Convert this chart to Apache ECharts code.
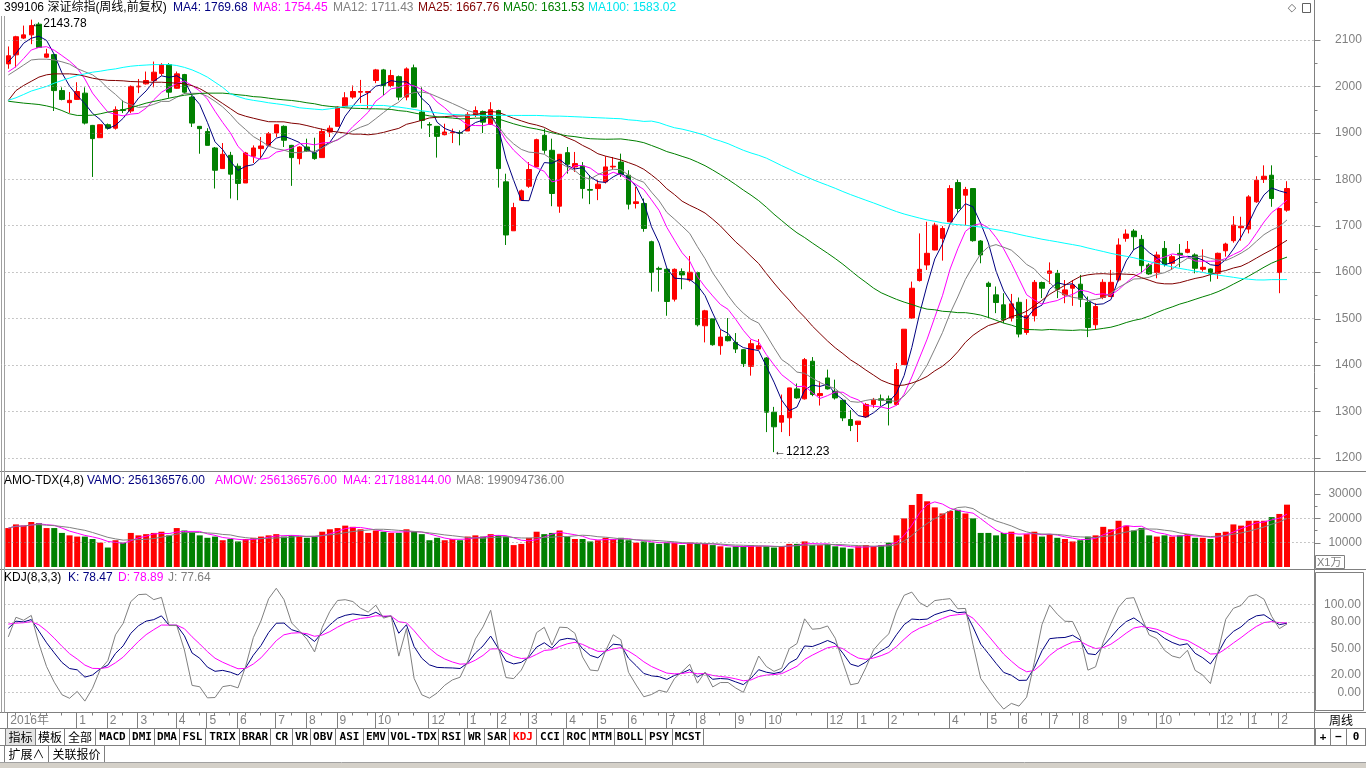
<!DOCTYPE html>
<html><head><meta charset="utf-8">
<script src="https://cdn.jsdelivr.net/npm/echarts@6/dist/echarts.min.js"></script>
<style>html,body{margin:0;padding:0;background:#fff;overflow:hidden}#c{width:1366px;height:768px}</style>
</head><body><div id="c"></div><script>
// ---------- data ----------
const startMonday = '2016-10-31';
const closedWeeks = ['2017-10-02','2018-10-01','2019-02-04','2020-01-27'];
const shortWeeks = {'2019-04-29':'2019-04-30','2019-09-30':'2019-09-30'};

const open = [2048.5,2068,2104,2111,2134,2063,2068.5,1991,1965,1972,
1985.5,1916,1889.5,1917.5,1910,1950,1947,1999,2005.5,2012.7,
2028,2047,1996,2025.5,1977,1914,1903,1867.4,1823,1851.6,
1828,1792,1849.5,1866,1873,1899.6,1914,1873,1844.5,1869.5,
1856.6,1846.6,1901.7,1914,1957,1977,1987.6,1987,2012.7,2035.6,
2002,2021,1977,2040,1944.7,1918,1914,1896,1900,1900,
1904,1937.5,1946,1918,1948,1794.4,1689,1755,1785,1826.6,
1894.6,1862.4,1742,1857.3,1826.6,1828.7,1778,1780,1794.4,1826.6,
1837,1808.7,1747.8,1747.8,1665.5,1608,1606,1541.7,1601,1583,
1599,1484.4,1499.4,1441.5,1461.5,1448.6,1433,1397,1434.3,1415,
1298.3,1276.8,1286.1,1348.4,1327,1408,1334,1372,1343.4,1324,
1282.5,1271.8,1288.3,1315,1327,1327,1315,1400.7,1501,1581.8,
1615.4,1647.6,1672.7,1708.4,1792.9,1765.7,1780,1667,1576,1551,
1529.5,1501,1535,1470,1506,1577.5,1597.5,1597.5,1551,1565.3,
1574,1534.5,1486.6,1545.3,1547.4,1583,1672.7,1688.4,1670.5,1615.4,
1599,1651,1619,1640.5,1642.6,1637,1606,1606.8,1597.5,1646,
1667.7,1695.6,1692.7,1751.4,1799.4,1808.7,1599,1733.5];
const high = [2086,2109,2131,2143.78,2138,2081,2070,1998,1988,2009,
1998,1917,1918,1920,1957,1970,2002,2016,2032,2053.5,
2050,2050,2032,2027,1980.5,1914,1910,1869.5,1878,1859,
1834,1859,1873,1891,1901.7,1918,1916,1874,1871,1887.4,
1889.5,1909,1916,1957,1987.6,2002,2014,1990,2037.7,2037.7,
2035.6,2023.4,2041,2047,1998,1923,1914,1919.6,1909,1905.3,
1944.7,1957,1948,1966,1949.7,1812,1749.3,1778,1837,1887.4,
1909,1887.4,1854,1869.5,1858.8,1837,1808.7,1798,1849.5,1848,
1855.2,1819.4,1783.6,1758.5,1667.7,1611.8,1608.3,1608,1608,1634.7,
1601,1518.8,1501,1476,1501,1468.7,1434.3,1454.3,1455.8,1417,
1309.7,1336.3,1351,1360,1415,1417,1364.8,1390,1368.4,1325.5,
1302.6,1279,1318.3,1329,1336.3,1334,1404.2,1477,1579.6,1683.4,
1708.4,1706.3,1699,1787.2,1799.4,1783.6,1780,1669,1579.6,1569,
1554.6,1553,1545.3,1541.7,1583,1579.6,1621,1604.7,1583,1583,
1594,1547.4,1533,1584.6,1604.7,1672.7,1692,1692.7,1680,1619,
1644,1667,1637,1660.5,1667,1640.5,1649,1608,1642,1663.4,
1720.6,1719.2,1765.7,1806.5,1830,1830,1737,1795.8];
const low = [2038,2041,2102,2091,2083,2061,1947,1970,1943,1971,
1918,1805,1889,1907,1907,1942.5,1942.5,1985.5,2004,1998,
2023,1975.5,1995,1984,1912.5,1855,1873,1780,1823,1758.5,
1755,1792,1835,1844.5,1871,1891,1869.5,1785.8,1832,1858.8,
1842,1846,1891,1914,1955.4,1973.3,1964,1953,2007,1980.5,
1998,1970,1970,1955,1909,1891,1846.6,1894.6,1878,1873,
1904,1934,1899.6,1918,1782,1658.4,1689,1755,1781.5,1826,
1855,1742,1727.8,1812,1815.8,1758.5,1746.4,1755,1790.8,1821,
1805,1735,1737,1687,1558,1558,1506,1536.7,1563,1579.6,
1483,1448.6,1441.5,1422,1450.8,1425.7,1395.6,1377,1433,1255.4,
1212.23,1255.4,1246.8,1327,1325.5,1332.7,1312.6,1347,1325.5,1279,
1257.5,1234,1286,1307.6,1311.2,1269.7,1312.6,1400,1499.5,1579.6,
1604.7,1647,1624.7,1708,1727.8,1701.3,1665.5,1619,1501,1511.6,
1490,1493.7,1459.4,1465,1493.7,1544,1574.6,1544,1533,1527.4,
1524.5,1460,1476,1541.7,1546,1579.6,1665.5,1647.6,1597.5,1594,
1586.8,1612,1604.7,1610.4,1640.5,1597.5,1601,1579.6,1585.3,1633.3,
1663.4,1667.7,1683.4,1749.3,1792,1740.7,1554.6,1730];
const close = [2066,2107,2111,2131,2084,2070,1991,1972,1970,1989,
1921,1887.5,1917.5,1910,1949.7,1948,2000,2000.5,2012.7,2030.6,
2047,1987.6,2027,1987.6,1921,1909,1873,1819.4,1853.8,1811,
1791,1856.6,1867.4,1871.7,1898,1917.5,1884,1846.6,1869.5,1861,
1844.5,1903,1910,1955.4,1975.5,1989,1989,1989,2035.6,2002,
2023.4,1977,2037.7,1955.4,1926.8,1916.7,1892.4,1901.7,1901.7,1899,
1939.7,1948,1923,1949.7,1823,1680,1739,1775,1821,1885.3,
1862.4,1769.3,1853.8,1832.3,1833.7,1780,1776.5,1789.4,1826.6,1828,
1810.8,1746.4,1751.4,1694,1599,1606,1536.7,1606,1594,1599.7,
1486.6,1516.6,1443.6,1460,1452.2,1434.3,1402.8,1445.8,1441.5,1298.3,
1266.8,1291,1350.6,1329,1411.4,1336.3,1338.4,1348.4,1329,1286,
1269.7,1279,1315,1324,1324,1318.3,1390,1477,1565.3,1606,
1640.5,1701.3,1694,1780,1737,1778,1667.7,1637,1569,1534.5,
1497.3,1531.6,1466.5,1506,1578,1565.3,1602.5,1563,1561.7,1572.5,
1541.7,1480.8,1526,1578,1578,1658.4,1682,1676.2,1614,1596,
1636.9,1616.8,1633.3,1637,1649,1608.3,1610.4,1596,1640.5,1660.5,
1701.3,1699,1762,1798,1806.5,1758.5,1737,1780];
// turnover in units of 1e4 (axis "X1万")
const amount = [16000,17500,17000,18500,18000,16000,16000,14000,13000,12500,
12500,11500,10000,8000,11000,10000,14000,13000,13500,14000,
14500,13000,16000,15000,14500,13000,12000,12500,11000,11500,
10500,11500,12000,12500,13000,13500,12500,13000,12500,12000,
12500,14500,15500,16000,17000,16500,15500,14000,15000,14500,
14000,14000,15500,14500,13500,11000,12000,11000,11500,11000,
12500,13000,12500,13500,13000,12500,9000,9500,12000,14500,
13500,14000,15000,12500,11500,11500,10500,11000,12000,11500,
12000,11000,10000,10500,10000,9500,10000,10000,9000,10000,
9500,9500,9000,8500,8000,8500,8500,9000,8500,8500,
8000,8500,9500,9500,10500,9000,9000,9500,8500,8000,
7500,8500,9000,8500,9000,10000,13000,20000,25500,30000,
27000,24500,22000,23000,23500,22000,20000,14000,14000,13000,
14000,14500,12500,13500,14500,12500,13500,12000,11500,10500,
11000,12500,13000,16500,15500,19000,17000,15000,16000,13000,
12500,13000,12500,13000,13500,12000,12000,11500,14000,14500,
17500,17000,19000,19000,19000,20500,21800,25614];
const ma4Head = [2053,2071,2093];
const ma8Head = [2031.6,2042.5,2060,2078.4,2084,2085.6,2078];
const ma12Head = [2024.5,2035,2046,2057,2058.6,2058.6,2057,2053,2048,2038.5,2031.6];
const ma25Head = [1969.7,1991,2002,2011,2020,2025,2027,2027,2027,2025.5,2022,2017.7,2015,2013,2012.7,2012,2010.5,2010,2009,2009,2009,2008,2007,2005.5];
const ma50Head = [1968,1966,1964,1962.6,1961,1958,1954,1948,1941,1937.5,
1937.5,1938,1941,1944.7,1947,1949.7,1954,1959,1964,1967.6,
1971,1974.7,1978,1981,1983,1984.8,1985.5,1985.5,1985.5,1984,
1982,1980.5,1978,1977,1974.7,1972.6,1971,1969.7,1967.6,1964.7,
1962.6,1959,1957,1955.4,1954,1953,1952.5,1951.8,1951.8];
const ma100Head = [1970,1975.5,1982.6,1990,1995,2000,2007,2012.7,2018,2023.4,
2027,2030.6,2032.7,2035.6,2037.7,2041,2043.5,2045,2046,2047,
2047,2047,2045,2041,2035.6,2028.4,2020,2009,1998,1984,
1978,1973,1970,1967.6,1964.7,1962.6,1960.4,1957.6,1954,1952.5,
1951,1949.7,1951.8,1954,1957,1958.3,1959,1959,1959,1959,
1957,1955.4,1953,1950.4,1947.5,1945.4,1943,1941,1939.7,1939,
1938,1937.5,1937.5,1937.5,1938,1937.5,1937.5,1937.5,1937.5,1937.5,
1936.8,1936,1936,1935.4,1934.7,1934,1933.2,1932.5,1931.8,1931,
1930.4,1928,1926.8,1924.6,1925.3,1921.8,1916,1911,1908,1904,
1899.6,1894.6,1887.4,1882.4,1876.7,1869.5,1862.4,1856.6,1851.6];
const kdjSeed = [80, 80]; // K, D before the first bar

const priceTicks = [1200,1300,1400,1500,1600,1700,1800,1900,2000,2100];
const priceMinor = [1250,1350,1450,1550,1650,1750,1850,1950,2050];
const volTicks = [10000,20000,30000];
const volMinor = [15000,25000];
const volGridVals = [10000,20000];
const kdjTicks = [0,20,50,80,100];

const headerMain = [['399106 深证综指(周线,前复权)','#000000'],['MA4: 1769.68','#000080'],['MA8: 1754.45','#FF00FF'],['MA12: 1711.43','#808080'],['MA25: 1667.76','#800000'],['MA50: 1631.53','#008000'],['MA100: 1583.02','#00E5EE']];
const headerVol = [['AMO-TDX(4,8)','#000000'],['VAMO: 256136576.00','#000080'],['AMOW: 256136576.00','#FF00FF'],['MA4: 217188144.00','#FF00FF'],['MA8: 199094736.00','#808080']];
const headerKdj = [['KDJ(8,3,3)','#000000'],['K: 78.47','#000080'],['D: 78.89','#FF00FF'],['J: 77.64','#808080']];
const tabNames = ['指标','模板','全部','MACD','DMI','DMA','FSL','TRIX','BRAR','CR','VR','OBV','ASI','EMV','VOL-TDX','RSI','WR','SAR','KDJ','CCI','ROC','MTM','BOLL','PSY','MCST'];
const bottomTabs = ['扩展∧','关联报价'];

// ---------- derived ----------
const N = close.length;
const dates = [];
(function(){
  let d = new Date(startMonday + 'T00:00:00Z');
  const f = x => x.toISOString().slice(0,10);
  while (dates.length < N) {
    const mon = f(d);
    if (!closedWeeks.includes(mon)) {
      if (shortWeeks[mon]) dates.push(shortWeeks[mon]);
      else { const fr = new Date(d.getTime() + 4*86400000); dates.push(f(fr)); }
    }
    d = new Date(d.getTime() + 7*86400000);
  }
})();
const cats = dates.concat(['', '', '']);
const months = dates.map(s => +s.slice(5,7));
const labelIdx = new Set([0]);
(function(){
  let last = 0;
  for (let i = 1; i < N; i++) {
    if (months[i] !== months[i-1]) {
      const gap = last === 0 ? 6 : 4;
      if (i - last >= gap) { labelIdx.add(i); last = i; }
    }
  }
})();
function maOf(arr, n, head) {
  return arr.map((v, i) => {
    if (i >= n - 1) { let s = 0; for (let k = i-n+1; k <= i; k++) s += arr[k]; return +(s/n).toFixed(2); }
    return head ? head[i] : null;
  });
}
function maPartial(arr, n) {
  return arr.map((v, i) => { const a = Math.max(0, i-n+1); let s = 0; for (let k = a; k <= i; k++) s += arr[k]; return +(s/(i-a+1)).toFixed(1); });
}
const ma4 = maOf(close, 4, ma4Head), ma8 = maOf(close, 8, ma8Head), ma12 = maOf(close, 12, ma12Head);
const ma25 = maOf(close, 25, ma25Head), ma50 = maOf(close, 50, ma50Head), ma100 = maOf(close, 100, ma100Head);
const amo4 = maPartial(amount, 4), amo8 = maPartial(amount, 8);
const K = [], D = [], J = [];
(function(){
  let pk = kdjSeed[0], pd = kdjSeed[1];
  for (let i = 0; i < N; i++) {
    const a = Math.max(0, i-7);
    let lo = Infinity, hi = -Infinity;
    for (let k = a; k <= i; k++) { lo = Math.min(lo, low[k]); hi = Math.max(hi, high[k]); }
    const rsv = hi > lo ? (close[i]-lo)/(hi-lo)*100 : 50;
    const k = (2*pk + rsv)/3, d = (2*pd + k)/3;
    K.push(+k.toFixed(2)); D.push(+d.toFixed(2)); J.push(+(3*k-2*d).toFixed(2));
    pk = k; pd = d;
  }
})();
const candle = open.map((o, i) => [o, close[i], low[i], high[i]]);
const volBars = amount.map((v, i) => ({ value: v, itemStyle: { color: close[i] >= open[i] ? '#FF0000' : '#008000' } }));
let hiIdx = 0, loIdx = 0;
high.forEach((v, i) => { if (v > high[hiIdx]) hiIdx = i; });
low.forEach((v, i) => { if (v < low[loIdx]) loIdx = i; });

// ---------- layout ----------
const W = 1366, GL = 4.47, GR = 1313.8;
const FONT = '12px "Liberation Sans", "Noto Sans CJK SC", Arial, sans-serif';
const TABFONT = 'bold 11px "DejaVu Sans Mono", "Liberation Mono", monospace';
const CJKFONT = '12px "Noto Sans CJK SC", sans-serif';
const AX = '#808080';
const dotted = (vals) => ({ silent: true, symbol: ['none','none'], label: { show: false }, animation: false,
  lineStyle: { color: '#909090', type: [1, 3], width: 1 }, emphasis: { disabled: true }, data: vals.map(v => ({ yAxis: v })) });
const xBase = (g) => ({ type: 'category', gridIndex: g, data: cats, boundaryGap: true,
  axisLine: { show: false }, axisTick: { show: false }, axisLabel: { show: false }, splitLine: { show: false } });
const yBase = (g, min, max) => ({ type: 'value', gridIndex: g, position: 'right', min, max, scale: false,
  axisLine: { show: false }, splitLine: { show: false }, axisTick: { show: false }, axisLabel: { show: false } });
const plain = v => String(Math.round(v));

const G = [];
const line = (x1,y1,x2,y2,c) => G.push({ type:'line', silent:true, z:100, shape:{x1,y1,x2,y2}, style:{ stroke:c||AX, lineWidth:1 } });
const rect = (x,y,w,h,fill,stroke) => G.push({ type:'rect', silent:true, z:90, shape:{x,y,width:w,height:h}, style:{ fill:fill||'none', stroke:stroke||AX, lineWidth:1 } });
const txt = (x,y,t,fill,opt,extra) => G.push(Object.assign({ type:'text', silent:true, z:110, x, y,
  style: Object.assign({ text:t, fill, font:FONT, textAlign:'left', align:'left', textVerticalAlign:'middle', verticalAlign:'middle' }, opt||{}) }, extra||{}));

// headers
[4,173,253,333,418,503,588].forEach((x,i) => txt(x, 8, headerMain[i][0], headerMain[i][1]));
[4,87,215,343,456].forEach((x,i) => txt(x, 481, headerVol[i][0], headerVol[i][1]));
[4,68,118,168].forEach((x,i) => txt(x, 578, headerKdj[i][0], headerKdj[i][1]));
// frame lines
line(0,471.5,W,471.5); line(0,569.5,W,569.5); line(0,712.5,W,712.5); line(0,728.5,W,728.5);
line(0,745.5,W,745.5); line(0,762.5,W,762.5,'#a0a0a0');
G.push({ type:'rect', silent:true, z:80, shape:{x:0,y:763,width:W,height:5}, style:{ fill:'#d4d0c8' } });
line(1314.5,0,1314.5,745.5);
line(4.5,16,4.5,712.5,'#a0a0a0'); line(1.5,16,1.5,712.5,'#a0a0a0');
// right side boxes
rect(1315.5,555.5,29,13); txt(1317,562.5,'X1万',AX,{font:'11px "Liberation Sans", "Noto Sans CJK SC", sans-serif'});
rect(1315.5,572.5,48,138);
txt(1341,720.5,'周线','#000',{textAlign:'center',align:'center',font:CJKFONT});
// top-right icons
txt(1292,8.5,'◇','#606060',{textAlign:'center',align:'center',font:'11px "DejaVu Sans", sans-serif'});
rect(1302.5,3.5,8,9,'#fff','#606060');
// tabs
const tabEdges = [4.5,35,64,95,128.6,154,178.6,205,239,270,292.4,310,335,362.5,387.5,437.5,464,484,509,535.7,562.5,589,614,645,672,703];
tabNames.forEach((t,i) => {
  const x1 = Math.round(tabEdges[i]) + 0.5, x2 = Math.round(tabEdges[i+1]) + 0.5;
  rect(x1, 728.5, x2-x1, 17, i === 0 ? '#e4e4e4' : '#ffffff');
  const cjk = /[\u4e00-\u9fff]/.test(t);
  txt((x1+x2)/2, 737.5, t, t === 'KDJ' ? '#FF0000' : '#000000', { textAlign:'center', align:'center', font: cjk ? CJKFONT : TABFONT });
});
rect(703.5,728.5,612,17,'#ffffff');
[['+',1315.5,1330.5],['−',1330.5,1346.5],['0',1346.5,1365.5]].forEach(b => {
  rect(b[1],728.5,b[2]-b[1],17,'#ffffff');
  txt((b[1]+b[2])/2,737.5,b[0],'#000',{textAlign:'center',align:'center',font:TABFONT});
});
[[4.5,48.5],[48.5,104.5]].forEach((b,i) => {
  rect(b[0],745.5,b[1]-b[0],17,'#ffffff');
  txt((b[0]+b[1])/2,754,bottomTabs[i],'#000',{textAlign:'center',align:'center',font:CJKFONT});
});

const option = {
  animation: false,
  backgroundColor: '#ffffff',
  textStyle: { fontFamily: '"Liberation Sans", "Noto Sans CJK SC", Arial, sans-serif' },
  grid: [
    { left: GL, right: W-GR, top: 17, height: 454 },
    { left: GL, right: W-GR, top: 472, height: 97 },
    { left: GL, right: W-GR, top: 570, height: 142 }
  ],
  xAxis: [
    xBase(0), xBase(1),
    Object.assign(xBase(2), {
      axisLabel: { show: true, interval: (i) => labelIdx.has(i), align: 'left', margin: 3, padding: [0,0,0,2],
        color: AX, fontSize: 12, formatter: (v, i) => i === 0 ? v.slice(0,4) + '年' : String(+v.slice(5,7)) }
    })
  ],
  yAxis: [
    Object.assign(yBase(0, 1171.6, 2149.5), {
      axisLabel: { show: true, customValues: priceTicks, align: 'right', margin: 48, color: AX, fontSize: 12, formatter: plain }
    }),
    Object.assign(yBase(1, -821, 39035), {
      axisLabel: { show: true, customValues: volTicks, align: 'right', margin: 48, color: AX, fontSize: 12, formatter: plain }
    }),
    Object.assign(yBase(2, -21.8, 138.8), {
      axisLabel: { show: true, customValues: kdjTicks, align: 'right', margin: 47, color: AX, fontSize: 12,
        formatter: v => Number(v).toFixed(2) }
    })
  ],
  series: [
    { type: 'candlestick', xAxisIndex: 0, yAxisIndex: 0, data: candle, barWidth: 5, z: 2,
      itemStyle: { color: '#FF0000', color0: '#008000', borderColor: '#FF0000', borderColor0: '#008000', borderWidth: 1 },
      markLine: dotted(priceTicks),
      markPoint: { symbol: 'circle', symbolSize: 0, silent: true, animation: false,
        label: { show: true, position: 'right', distance: 0, color: '#000', fontSize: 12 },
        data: [
          { coord: [hiIdx, high[hiIdx]], label: { formatter: '←' + high[hiIdx].toFixed(2), offset: [0, 4] } },
          { coord: [loIdx, low[loIdx]], label: { formatter: '←' + low[loIdx].toFixed(2), offset: [0, 0] } }
        ] } },
    ...[[ma4,'#000080'],[ma8,'#FF00FF'],[ma12,'#808080'],[ma25,'#800000'],[ma50,'#008000'],[ma100,'#00FFFF']].map(m => (
      { type: 'line', xAxisIndex: 0, yAxisIndex: 0, data: m[0], symbol: 'none', showSymbol: false, z: 3,
        lineStyle: { color: m[1], width: 1 }, emphasis: { disabled: true } })),
    { type: 'bar', xAxisIndex: 1, yAxisIndex: 1, data: volBars, barWidth: 6, z: 2, markLine: dotted(volGridVals) },
    { type: 'line', xAxisIndex: 1, yAxisIndex: 1, data: amo4, symbol: 'none', z: 3, lineStyle: { color: '#FF00FF', width: 1 } },
    { type: 'line', xAxisIndex: 1, yAxisIndex: 1, data: amo8, symbol: 'none', z: 3, lineStyle: { color: '#808080', width: 1 } },
    { type: 'line', xAxisIndex: 2, yAxisIndex: 2, data: K, symbol: 'none', z: 3, lineStyle: { color: '#000080', width: 1 }, markLine: dotted(kdjTicks) },
    { type: 'line', xAxisIndex: 2, yAxisIndex: 2, data: D, symbol: 'none', z: 3, lineStyle: { color: '#FF00FF', width: 1 } },
    { type: 'line', xAxisIndex: 2, yAxisIndex: 2, data: J, symbol: 'none', z: 3, lineStyle: { color: '#808080', width: 1 } }
  ]
};
const chart = echarts.init(document.getElementById('c'), null, { renderer: 'canvas' });
chart.setOption(option);

// axis ticks placed with the library's own scales
const px = (i) => chart.convertToPixel({ xAxisIndex: 2 }, cats[i]);
for (let i = 0; i < N; i++) {
  const x = Math.round(px(i)) - 0.5;
  if (labelIdx.has(i)) line(x, 712.5, x, 728.5);
  else if (i % 2 === 1) line(x, 712.5, x, 715.5);
}
const tickY = (axis, vals, len) => vals.forEach(v => {
  const y = Math.round(chart.convertToPixel({ yAxisIndex: axis }, v)) + 0.5;
  line(1314.5, y, 1314.5 + len, y);
});
tickY(0, priceTicks, 6); tickY(0, priceMinor, 3);
tickY(1, volTicks, 6); tickY(1, volMinor, 3);
chart.setOption({ graphic: { elements: G } });
</script></body></html>
